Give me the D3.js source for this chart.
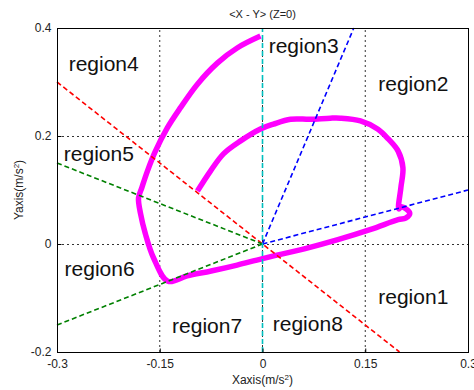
<!DOCTYPE html>
<html>
<head>
<meta charset="utf-8">
<script src="https://cdn.jsdelivr.net/npm/d3@7"></script>
<style>
  body { margin: 0; background: #fff; }
  text { font-family: "Liberation Sans", Arial, sans-serif; }
</style>
</head>
<body>
<div id="chart"></div>
<script>
// tick values
var xTicks = [-0.3, -0.15, 0, 0.15, 0.3];
var yTicks = [-0.2, 0, 0.2, 0.4];

// trajectory (Xaxis, Yaxis)
var trajX = [-0.095, -0.076, -0.057, -0.032, -0.003, 0.016, 0.041, 0.070, 0.099, 0.114, 0.143, 0.168, 0.184, 0.198, 0.205, 0.202, 0.199, 0.203, 0.215, 0.209, 0.198, 0.158, 0.110, 0.061, 0.000, -0.037, -0.075, -0.110, -0.138, -0.159, -0.171, -0.178, -0.181, -0.176, -0.168, -0.157, -0.139, -0.120, -0.095, -0.066, -0.037, -0.003];
var trajY = [0.098, 0.135, 0.167, 0.191, 0.213, 0.222, 0.231, 0.231, 0.233, 0.233, 0.228, 0.213, 0.194, 0.172, 0.141, 0.104, 0.065, 0.069, 0.057, 0.048, 0.045, 0.027, 0.008, -0.009, -0.027, -0.039, -0.050, -0.059, -0.069, -0.026, 0.019, 0.056, 0.085, 0.105, 0.135, 0.170, 0.215, 0.252, 0.296, 0.335, 0.363, 0.385];

// region boundary lines, [x1, y1, x2, y2] in data units
var boundaries = [
    {color: '#ff0000', seg: [-0.3, 0.3, 0.2, -0.2]},
    {color: '#008000', seg: [-0.3, 0.15, 0, 0]},
    {color: '#008000', seg: [-0.3, -0.15, 0, 0]},
    {color: '#0000ff', seg: [0, 0, 0.3, 0.1]},
    {color: '#0000ff', seg: [0, 0, 0.1333, 0.4]},
    {color: '#00bfbf', seg: [0, -0.2, 0, 0.4]}
];

// region labels, anchored at data positions
var regionNames = ['region1', 'region2', 'region3', 'region4', 'region5', 'region6', 'region7', 'region8'];
var regionX = [0.169, 0.169, 0.009, -0.283, -0.29, -0.289, -0.132, 0.015];
var regionY = [-0.111, 0.283, 0.354, 0.320, 0.154, -0.059, -0.165, -0.161];

var width = 474, height = 390;
var margin = {top: 28, right: 6, bottom: 38, left: 57};

var svg = d3.select('#chart').append('svg')
    .attr('width', width)
    .attr('height', height);

var x = d3.scaleLinear().domain([-0.3, 0.3]).range([margin.left, width - margin.right]);
var y = d3.scaleLinear().domain([-0.2, 0.4]).range([height - margin.bottom, margin.top]);

// grid
svg.append('g').selectAll('line.gx')
    .data(xTicks.slice(1, -1)).enter()
    .append('line')
    .attr('x1', function(d){ return x(d); })
    .attr('x2', function(d){ return x(d); })
    .attr('y1', y(-0.2)).attr('y2', y(0.4))
    .style('stroke', '#333').style('stroke-dasharray', '2,3').style('stroke-width', 1);
svg.append('g').selectAll('line.gy')
    .data(yTicks).enter()
    .append('line')
    .attr('y1', function(d){ return y(d) + 0.5; })
    .attr('y2', function(d){ return y(d) + 0.5; })
    .attr('x1', x(-0.3)).attr('x2', x(0.3))
    .style('stroke', '#333').style('stroke-dasharray', '2,3').style('stroke-width', 1);

// trajectory
var line = d3.line()
    .x(function(d){ return x(d[0]); })
    .y(function(d){ return y(d[1]); })
    .curve(d3.curveCatmullRom.alpha(0.5));

svg.append('path')
    .datum(trajX.map(function(v, i){ return [v, trajY[i]]; }))
    .attr('d', line)
    .style('fill', 'none')
    .style('stroke', '#ff00ff')
    .style('stroke-width', 5.5)
    .style('stroke-linejoin', 'round');

// boundary lines
svg.append('g').selectAll('line')
    .data(boundaries).enter()
    .append('line')
    .attr('x1', function(d){ return x(d.seg[0]); })
    .attr('y1', function(d){ return y(d.seg[1]); })
    .attr('x2', function(d){ return x(d.seg[2]); })
    .attr('y2', function(d){ return y(d.seg[3]); })
    .style('stroke', function(d){ return d.color; })
    .style('stroke-width', 1.6)
    .style('stroke-dasharray', '5,3');

// box
svg.append('rect')
    .attr('x', x(-0.3) + 0.5).attr('y', y(0.4) + 0.5)
    .attr('width', x(0.3) - x(-0.3)).attr('height', y(-0.2) - y(0.4))
    .style('fill', 'none').style('stroke', '#000').style('stroke-width', 1);

// axes
var xAxis = d3.axisBottom(x).tickValues(xTicks).tickSize(-4).tickPadding(7)
    .tickFormat(function(d){ return d === 0 ? '0' : String(d); });
var yAxis = d3.axisLeft(y).tickValues(yTicks).tickSize(-4).tickPadding(6)
    .tickFormat(function(d){ return d === 0 ? '0' : String(d); });

var gx = svg.append('g').attr('transform', 'translate(0,' + (y(-0.2) + 0.5) + ')').call(xAxis);
var gy = svg.append('g').attr('transform', 'translate(' + (x(-0.3) + 0.5) + ',0)').call(yAxis);
[gx, gy].forEach(function(g){
    g.select('.domain').remove();
    g.selectAll('text').style('font-size', '12px').style('fill', '#222')
        .style('font-family', '"Liberation Sans", Arial, sans-serif');
    g.selectAll('line').style('stroke', '#000');
});

// region labels
svg.append('g').selectAll('text')
    .data(regionNames).enter()
    .append('text')
    .attr('x', function(d, i){ return x(regionX[i]); })
    .attr('y', function(d, i){ return y(regionY[i]); })
    .text(function(d){ return d; })
    .style('font-size', '21px')
    .style('fill', '#111');

// title and axis labels
svg.append('text')
    .attr('x', x(0)).attr('y', 18)
    .attr('text-anchor', 'middle')
    .style('font-size', '11px').style('fill', '#222')
    .text('<X - Y> (Z=0)');

var xl = svg.append('text')
    .attr('x', x(0)).attr('y', 384)
    .attr('text-anchor', 'middle')
    .style('font-size', '12px').style('fill', '#222')
    .text('Xaxis(m/s');
xl.append('tspan').attr('baseline-shift', 'super').style('font-size', '8px').text('2');
xl.append('tspan').text(')');

var yl = svg.append('text')
    .attr('transform', 'translate(23,' + y(0.1) + ') rotate(-90)')
    .attr('text-anchor', 'middle')
    .style('font-size', '12px').style('fill', '#222')
    .text('Yaxis(m/s');
yl.append('tspan').attr('baseline-shift', 'super').style('font-size', '8px').text('2');
yl.append('tspan').text(')');
</script>
</body>
</html>
